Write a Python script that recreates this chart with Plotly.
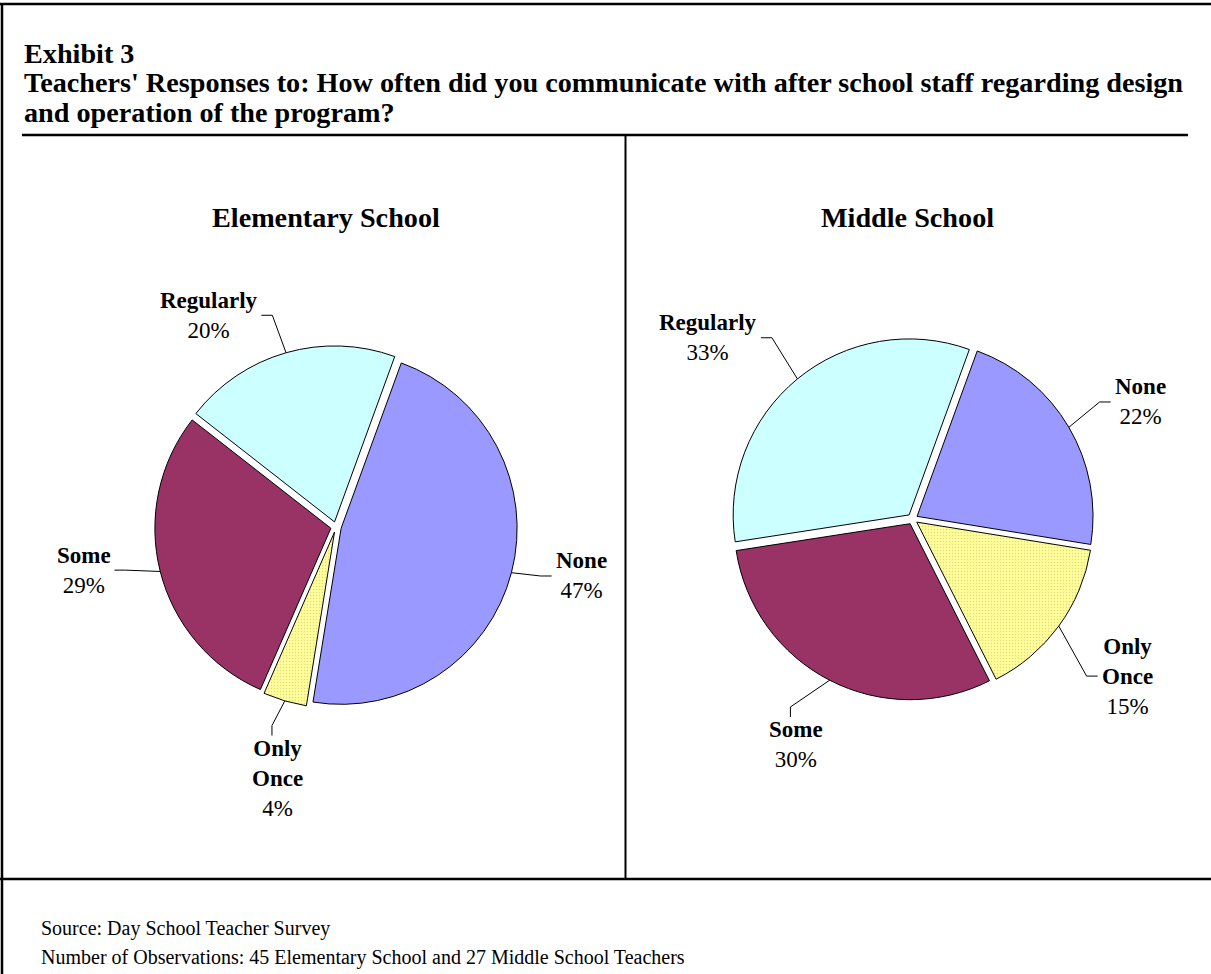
import math
import plotly.graph_objects as go

# ---------------- data ----------------
categories = ["None", "Only Once", "Some", "Regularly"]
label_names = ["None", "Only<br>Once", "Some", "Regularly"]
elementary_pct = [47, 4, 29, 20]
middle_pct = [22, 15, 30, 33]
panel_titles = ["Elementary School", "Middle School"]
title_lines = [
    "Exhibit 3",
    "Teachers' Responses to: How often did you communicate with after school staff regarding design",
    "and operation of the program?",
]
footer_lines = [
    "Source: Day School Teacher Survey",
    "Number of Observations: 45 Elementary School and 27 Middle School Teachers",
]

# ---------------- style ----------------
colors = ["#9999FF", "#FFFF99", "#993366", "#CCFFFF"]
patterns = ["", ".", "", ""]
W, H = 1211, 974
FONT = "Liberation Serif, Times New Roman, serif"
PULL = 0.03
ROT = 20
RADIUS = 176
LABEL_FS = 23
TITLE_FS = 28.2
FOOT_FS = 20

pies = [
    dict(values=elementary_pct, title=panel_titles[0], cx=336, cy=527, tx=326, ty=217,
         dist=[250, 258, 256, 247], nudge=[-3.3, -3.4, 4.5, -15],
         side=["left", "top", "right", "right"]),
    dict(values=middle_pct, title=panel_titles[1], cx=912.5, cy=519, tx=907, ty=217,
         dist=[256, 266, 254, 273], nudge=[3.2, 0, 0, -9],
         side=["left", "left", "top", "right"]),
]

# approximate Times glyph widths (em) for label box sizing
BOLD_W = dict(N=.722, o=.5, n=.556, e=.444, O=.778, l=.278, y=.5, c=.444, S=.556,
              m=.833, R=.722, g=.5, u=.556, a=.5, r=.444)
REG_W = {d: .5 for d in "0123456789"}
REG_W["%"] = .833


def text_w(s, table, fs):
    return sum(table.get(ch, .5) for ch in s) * fs


def px(x):
    return x / W


def py(y):
    return 1 - y / H


def u(theta):
    t = math.radians(theta)
    return math.sin(t), -math.cos(t)


fig = go.Figure()
shapes = []
annotations = []


def seg(x0, y0, x1, y1, width=1.0):
    shapes.append(dict(type="line", xref="paper", yref="paper",
                       x0=px(x0), y0=py(y0), x1=px(x1), y1=py(y1),
                       line=dict(color="black", width=width)))


for p in pies:
    vals = p["values"]
    s = RADIUS * (1 + PULL)
    fig.add_trace(go.Pie(
        labels=categories, values=vals, sort=False, direction="clockwise",
        rotation=ROT, pull=[PULL] * len(vals), textinfo="none", hoverinfo="label+percent",
        marker=dict(colors=colors, line=dict(color="black", width=1),
                    pattern=dict(shape=patterns, fgcolor="#e2da86", bgcolor=colors,
                                 size=3, solidity=0.2)),
        domain=dict(x=[px(p["cx"] - s), px(p["cx"] + s)],
                    y=[py(p["cy"] + s), py(p["cy"] - s)]),
        showlegend=False,
    ))
    annotations.append(dict(text="<b>%s</b>" % p["title"], x=px(p["tx"]), y=py(p["ty"]),
                            xref="paper", yref="paper", showarrow=False,
                            xanchor="center", yanchor="middle",
                            font=dict(family=FONT, size=TITLE_FS, color="black")))
    total = sum(vals)
    start = ROT
    for i, v in enumerate(vals):
        span = 360 * v / total
        mid = start + span / 2
        start += span
        # anchor on the pulled slice's arc
        ux, uy = u(mid)
        ax = p["cx"] + RADIUS * (1 + PULL) * ux
        ay = p["cy"] + RADIUS * (1 + PULL) * uy
        # label centre
        lx_, ly_ = u(mid + p["nudge"][i])
        lcx = p["cx"] + p["dist"][i] * lx_
        lcy = p["cy"] + p["dist"][i] * ly_
        name_lines = label_names[i].split("<br>")
        pct_txt = "%d%%" % round(100 * v / total)
        annotations.append(dict(
            text="<b>%s</b><br>%s" % (label_names[i], pct_txt),
            x=px(lcx), y=py(lcy), xref="paper", yref="paper", showarrow=False,
            xanchor="center", yanchor="middle", align="center",
            font=dict(family=FONT, size=LABEL_FS, color="black")))
        # leader line
        nlines = len(name_lines) + 1
        bw = max(max(text_w(t, BOLD_W, LABEL_FS) for t in name_lines),
                 text_w(pct_txt, REG_W, LABEL_FS))
        side = p["side"][i]
        if side == "left":
            ex, ey = lcx - bw / 2 - 4, lcy
            bx, by = ex - 11, ey
        elif side == "right":
            ex, ey = lcx + bw / 2 + 4, lcy
            bx, by = ex + 11, ey
        else:
            ex, ey = lcx - 6, lcy - nlines * 1.3 * LABEL_FS / 2 + 2
            bx, by = ex, ey - 10
        seg(ax, ay, bx, by)
        seg(bx, by, ex, ey)

# header title lines
for txt, yc in zip(title_lines, [54, 83, 112]):
    annotations.append(dict(text="<b>%s</b>" % txt, x=px(22), y=py(yc), xref="paper",
                            yref="paper", showarrow=False, xanchor="left", yanchor="middle",
                            font=dict(family=FONT, size=TITLE_FS, color="black")))
# footer lines
for txt, yc in zip(footer_lines, [928, 957]):
    annotations.append(dict(text=txt, x=px(39), y=py(yc), xref="paper", yref="paper",
                            showarrow=False, xanchor="left", yanchor="middle",
                            font=dict(family=FONT, size=FOOT_FS, color="black")))

# frame & rules
seg(0, 4, W, 4, 2.5)
seg(2, 4, 2, H, 2.5)
seg(22, 135, 1188, 135, 2.5)
seg(625.5, 135, 625.5, 879, 2)
seg(0, 879, W, 879, 2.5)

fig.update_layout(
    width=W, height=H, margin=dict(l=0, r=0, t=0, b=0),
    paper_bgcolor="white", plot_bgcolor="white",
    shapes=shapes, annotations=annotations,
    font=dict(family=FONT),
)
fig.write_html("out.html", config={"displayModeBar": False},
               post_script="document.body.style.margin='0px';"
                           "document.body.style.overflow='hidden';")
